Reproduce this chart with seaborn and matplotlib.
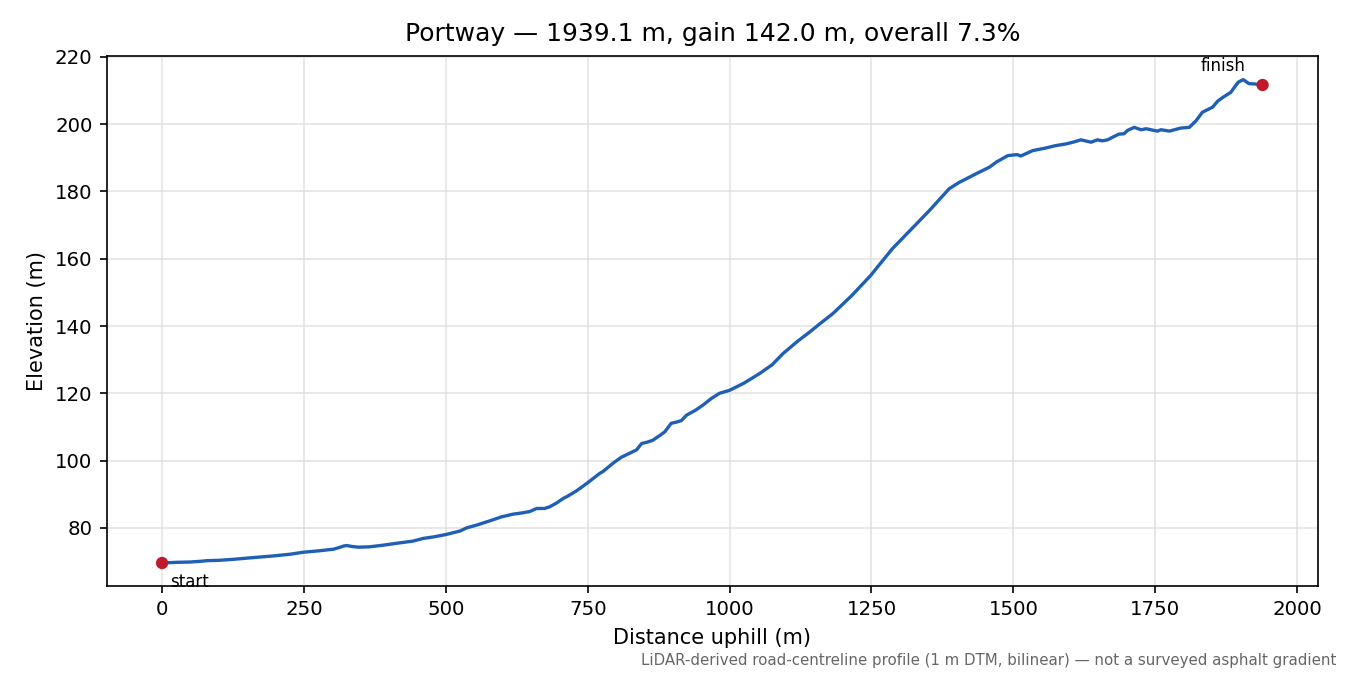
import numpy as np
import pandas as pd
import matplotlib
matplotlib.use("Agg")
import matplotlib.pyplot as plt
import seaborn as sns

distance = [0, 25, 50, 67, 80, 100, 126, 160, 196, 225, 249, 275, 302, 312, 319, 325,
            335, 346, 365, 390, 415, 442, 460, 480, 501, 525, 536, 555, 577, 598, 618,
            635, 648, 660, 674, 683, 695, 707, 713, 730, 748, 771, 777, 795, 809, 825,
            836, 845, 855, 865, 878, 886, 897, 905, 915, 924, 940, 953, 968, 982, 1000,
            1025, 1053, 1075, 1094, 1120, 1141, 1160, 1182, 1215, 1249, 1258, 1287, 1317,
            1352, 1387, 1405, 1434, 1458, 1470, 1490, 1500, 1507, 1513, 1534, 1555, 1575,
            1593, 1605, 1619, 1637, 1648, 1657, 1666, 1675, 1686, 1695, 1701, 1713, 1725,
            1734, 1745, 1754, 1760, 1775, 1795, 1810, 1822, 1833, 1851, 1860, 1869, 1883,
            1896, 1905, 1915, 1925, 1939.1]
elevation = [69.6, 69.8, 69.9, 70.1, 70.3, 70.4, 70.7, 71.2, 71.7, 72.2, 72.8, 73.2, 73.7,
             74.2, 74.6, 74.8, 74.5, 74.3, 74.4, 74.9, 75.5, 76.1, 76.9, 77.4, 78.1, 79.1,
             80.0, 80.9, 82.1, 83.3, 84.1, 84.5, 84.9, 85.8, 85.8, 86.3, 87.4, 88.8, 89.3,
             91.0, 93.2, 96.2, 96.8, 99.3, 101.0, 102.3, 103.2, 105.1, 105.5, 106.1, 107.6,
             108.6, 111.1, 111.4, 111.9, 113.5, 115.0, 116.5, 118.5, 120.0, 120.9, 123.0,
             125.9, 128.5, 131.8, 135.5, 138.2, 140.8, 143.7, 149.0, 155.1, 157.0, 163.0,
             168.2, 174.3, 180.8, 182.7, 185.2, 187.2, 188.7, 190.6, 190.8, 190.9, 190.5,
             192.1, 192.8, 193.6, 194.1, 194.6, 195.3, 194.6, 195.3, 195.0, 195.3, 196.1,
             197.0, 197.1, 198.1, 199.0, 198.3, 198.6, 198.2, 197.9, 198.3, 197.9, 198.8,
             199.0, 201.0, 203.5, 205.0, 206.8, 207.9, 209.4, 212.4, 213.2, 212.0, 211.9,
             211.6]

endpoint_labels = ["start", "finish"]
title_text = "Portway \u2014 1939.1 m, gain 142.0 m, overall 7.3%"
x_label = "Distance uphill (m)"
y_label = "Elevation (m)"
footnote = "LiDAR-derived road-centreline profile (1 m DTM, bilinear) \u2014 not a surveyed asphalt gradient"

df = pd.DataFrame({"d": distance, "e": elevation})
ends = pd.DataFrame({"d": [distance[0], distance[-1]], "e": [elevation[0], elevation[-1]],
                     "label": endpoint_labels})

sns.set_style("ticks")
plt.rcParams["font.family"] = ["DejaVu Sans"]
plt.rcParams["text.color"] = "black"
plt.rcParams["axes.labelcolor"] = "black"

fig = plt.figure(figsize=(9, 4.5), dpi=150)
ax = fig.add_axes([0.0793, 0.132, 0.8967, 0.785])

sns.lineplot(data=df, x="d", y="e", ax=ax, color="#1f5fb5", linewidth=1.6, sort=False,
             estimator=None)
sns.scatterplot(data=ends, x="d", y="e", ax=ax, color="#c01b2b", s=35, zorder=5,
                edgecolor="none")

ax.annotate(ends.label[0], (ends.d[0], ends.e[0]), xytext=(4, -9), textcoords="offset points",
            ha="left", va="center", fontsize=8, color="black")
ax.annotate(ends.label[1], (ends.d[1], ends.e[1]), xytext=(-19, 9), textcoords="offset points",
            ha="center", va="center", fontsize=8, color="black")

ax.grid(True, color="#dddddd", linewidth=0.8, alpha=0.8)
ax.set_axisbelow(True)
ax.set_title(title_text, fontsize=12, color="black", pad=7)
ax.set_xlabel(x_label, fontsize=10)
ax.set_ylabel(y_label, fontsize=10)
ax.tick_params(labelsize=9.5, colors="black", direction="out", length=3.5)
for s in ax.spines.values():
    s.set_color("black")
    s.set_linewidth(0.8)
ax.set_xticks([0, 250, 500, 750, 1000, 1250, 1500, 1750, 2000])
ax.set_ylim(62.8, 220.2)

fig.text(0.99, 0.022, footnote, ha="right", va="center", fontsize=7.2, color="#666666")

fig.savefig("out.png", dpi=150)
